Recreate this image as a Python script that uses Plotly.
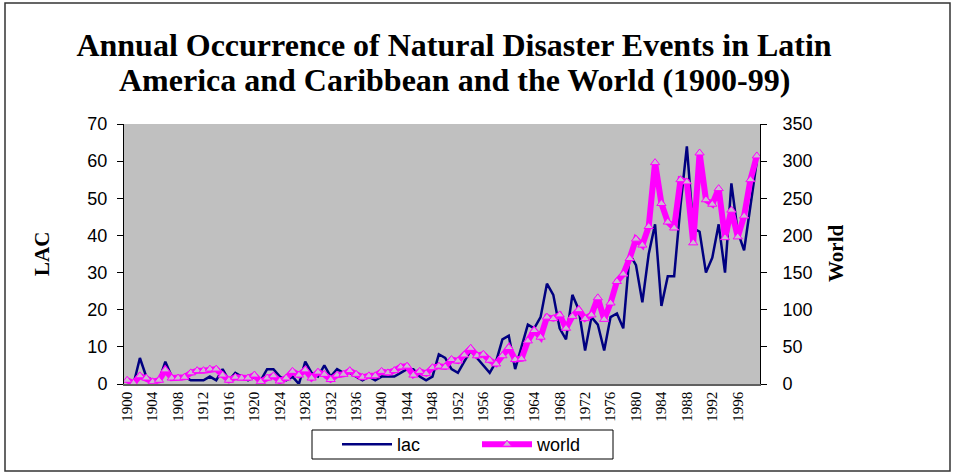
import plotly.graph_objects as go

years = list(range(1900, 2000))

lac = [1, 0, 7, 2, 1, 1, 6, 2, 2, 2,
       1, 1, 1, 2, 1, 4, 1, 3, 2, 1,
       2, 1, 4, 4, 2, 1, 2, 0, 6, 3,
       2, 5, 2, 4, 3, 3, 2, 1, 2, 1,
       2, 2, 2, 3, 4, 4, 2, 1, 2, 8,
       7, 4, 3, 6, 9, 7, 5, 3, 6, 12,
       13, 4, 10, 16, 15, 18, 27, 24, 15, 12,
       24, 20, 9, 18, 16, 9, 18, 19, 15, 35,
       32, 22, 35, 43, 21, 29, 29, 48, 64, 42,
       41, 30, 34, 43, 30, 54, 41, 36, 48, 60]

world = [5, 1, 11, 8, 3, 5, 19, 8, 8, 9,
         15, 18, 18, 20, 20, 12, 5, 9, 8, 8,
         12, 3, 8, 11, 4, 8, 17, 12, 19, 8,
         16, 13, 6, 12, 13, 18, 13, 9, 11, 11,
         17, 15, 18, 23, 24, 12, 17, 14, 22, 24,
         23, 33, 31, 39, 48, 38, 40, 32, 27, 38,
         49, 33, 34, 58, 72, 63, 90, 88, 93, 75,
         91, 100, 88, 93, 116, 87, 109, 138, 148, 169,
         195, 187, 212, 298, 243, 218, 210, 275, 272, 190,
         311, 248, 242, 263, 197, 234, 198, 226, 275, 307]

tick_years = list(range(1900, 2000, 4))
tick_text = [str(y) for y in tick_years]

title_line1 = "Annual Occurrence of Natural Disaster Events in Latin"
title_line2 = "America and Caribbean and the World (1900-99)"

# pixel layout helpers (figure 956 x 476)
W, H = 956, 476
PL, PR, PT, PB = 124, 760, 124, 384
pw, ph = PR - PL, PB - PT


def px(x):
    return (x - PL) / pw


def py(y):
    return (PB - y) / ph


title_font = dict(family="Liberation Serif", size=32, color="black")

fig = go.Figure()

fig.add_trace(go.Scatter(
    x=years, y=lac, name="lac", mode="lines",
    line=dict(color="#000080", width=2.5),
    yaxis="y"))

fig.add_trace(go.Scatter(
    x=years, y=world, name="world", mode="lines+markers",
    line=dict(color="#FF00FF", width=6),
    marker=dict(symbol="triangle-up", size=8, color="#CDB8D2",
                line=dict(color="#FF00FF", width=1)),
    yaxis="y2"))

fig.update_layout(
    width=W, height=H,
    margin=dict(l=PL, r=W - PR, t=PT, b=H - PB, autoexpand=False),
    paper_bgcolor="white",
    plot_bgcolor="#C0C0C0",
    showlegend=True,
    title=dict(text="<b>" + title_line1 + "</b>", x=px(454), xref="paper",
               xanchor="center", y=1 - 45 / H, yref="container", yanchor="middle",
               font=title_font),
    xaxis=dict(range=[1899.5, 1999.5], tickvals=tick_years, ticktext=tick_text,
               tickangle=-90, showgrid=False, zeroline=False,
               showline=True, linecolor="#606060", linewidth=1.5,
               ticks="", tickfont=dict(family="Liberation Serif", size=15, color="black")),
    yaxis=dict(range=[0, 70], dtick=10, showgrid=False, zeroline=False,
               showline=True, linecolor="black", linewidth=1,
               ticks="outside", ticklen=6, tickcolor="black",
               ticklabelstandoff=6,
               tickfont=dict(family="Liberation Sans", size=18, color="black")),
    yaxis2=dict(range=[0, 350], dtick=50, overlaying="y", side="right",
                showgrid=False, zeroline=False,
                showline=True, linecolor="black", linewidth=1,
                ticks="outside", ticklen=6, tickcolor="black",
                ticklabelstandoff=12,
                tickfont=dict(family="Liberation Sans", size=18, color="black")),
    legend=dict(orientation="h", x=px(337), y=py(426), xanchor="left", yanchor="top",
                xref="paper", yref="paper",
                bgcolor="rgba(0,0,0,0)", borderwidth=0,
                itemwidth=50, entrywidth=75,
                font=dict(family="Liberation Sans", size=18, color="black")),
    annotations=[
        dict(text="<b>" + title_line2 + "</b>", x=px(454), y=py(80),
             xref="paper", yref="paper", xanchor="center", yanchor="middle",
             showarrow=False, font=title_font),
        dict(text="<b>LAC</b>", x=px(42), y=0.5, xref="paper", yref="paper",
             xanchor="center", yanchor="middle",
             textangle=-90, showarrow=False,
             font=dict(family="Liberation Serif", size=21, color="black")),
        dict(text="<b>World</b>", x=px(836), y=0.5, xref="paper", yref="paper",
             xanchor="center", yanchor="middle",
             textangle=-90, showarrow=False,
             font=dict(family="Liberation Serif", size=21, color="black")),
    ],
    shapes=[
        dict(type="rect", xref="paper", yref="paper",
             x0=px(5), x1=px(950), y0=py(471), y1=py(3),
             line=dict(color="#333333", width=1.5), layer="below"),
        dict(type="rect", xref="paper", yref="paper",
             x0=px(312), x1=px(613), y0=py(459), y1=py(430),
             line=dict(color="black", width=1), layer="below"),
    ],
)

fig.write_html("out.html",
               config={"displayModeBar": False},
               post_script="document.body.style.margin='0';")
